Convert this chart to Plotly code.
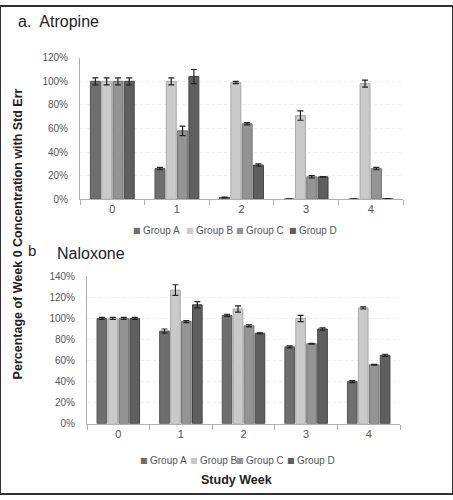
import plotly.graph_objects as go

weeks = [0, 1, 2, 3, 4]
week_labels = ["0", "1", "2", "3", "4"]
groups = ["Group A", "Group B", "Group C", "Group D"]
colors = ["#6e6e6e", "#cacaca", "#949494", "#5f5f5f"]
outline = ["#555555", "#a8a8a8", "#707070", "#444444"]

# Atropine (fraction of week 0)
atro_A = [1.00, 0.26, 0.015, 0.003, 0.003]
atro_B = [1.00, 1.00, 0.99, 0.71, 0.98]
atro_C = [1.00, 0.58, 0.64, 0.19, 0.26]
atro_D = [1.00, 1.04, 0.29, 0.19, 0.005]
atro_A_err = [0.03, 0.01, 0.003, 0.0, 0.0]
atro_B_err = [0.03, 0.03, 0.01, 0.04, 0.03]
atro_C_err = [0.03, 0.04, 0.01, 0.01, 0.01]
atro_D_err = [0.03, 0.06, 0.01, 0.003, 0.0]

# Naloxone
nalo_A = [1.00, 0.88, 1.03, 0.73, 0.40]
nalo_B = [1.00, 1.27, 1.09, 1.00, 1.10]
nalo_C = [1.00, 0.97, 0.93, 0.76, 0.56]
nalo_D = [1.00, 1.13, 0.86, 0.90, 0.65]
nalo_A_err = [0.01, 0.02, 0.01, 0.01, 0.01]
nalo_B_err = [0.01, 0.05, 0.03, 0.03, 0.01]
nalo_C_err = [0.01, 0.01, 0.01, 0.004, 0.004]
nalo_D_err = [0.01, 0.03, 0.004, 0.01, 0.01]

atro = [atro_A, atro_B, atro_C, atro_D]
atro_err = [atro_A_err, atro_B_err, atro_C_err, atro_D_err]
nalo = [nalo_A, nalo_B, nalo_C, nalo_D]
nalo_err = [nalo_A_err, nalo_B_err, nalo_C_err, nalo_D_err]

W, H = 453, 500
FONT = "Arial, Liberation Sans, sans-serif"

fig = go.Figure()

for i, g in enumerate(groups):
    fig.add_trace(go.Bar(
        x=weeks, y=atro[i], name=g, xaxis="x", yaxis="y", showlegend=False,
        marker=dict(color=colors[i], line=dict(color=outline[i], width=1)),
        error_y=dict(type="data", array=atro_err[i], color="#222222", thickness=1.2, width=3),
        offsetgroup=str(i),
    ))
for i, g in enumerate(groups):
    fig.add_trace(go.Bar(
        x=weeks, y=nalo[i], name=g, xaxis="x2", yaxis="y2", showlegend=False,
        marker=dict(color=colors[i], line=dict(color=outline[i], width=1)),
        error_y=dict(type="data", array=nalo_err[i], color="#222222", thickness=1.2, width=3),
        offsetgroup=str(i),
    ))

def px_x(p):
    return p / W

def px_y(p):
    return 1 - p / H

xaxis_common = dict(
    range=[-0.5, 4.5], tickvals=weeks, ticktext=week_labels, ticks="",
    showline=True, linecolor="#b0b0b0", linewidth=1, showgrid=False, zeroline=False,
    tickfont=dict(family=FONT, size=11, color="#555555"),
    minor=dict(ticks="outside", tick0=-0.5, dtick=1, ticklen=5, tickcolor="#b0b0b0", showgrid=False),
    fixedrange=True,
)
yaxis_common = dict(
    tickformat=".0%", showline=True, linecolor="#b0b0b0", linewidth=1,
    showgrid=True, gridcolor="#eeeeee", griddash="dot", zeroline=False,
    tickfont=dict(family=FONT, size=10, color="#555555"), ticks="",
    ticklabelstandoff=9, fixedrange=True,
)

annotations = [
    dict(text="a.  Atropine", x=px_x(16), y=px_y(16), xref="paper", yref="paper",
         xanchor="left", yanchor="middle", showarrow=False,
         font=dict(family=FONT, size=16, color="#222222")),
    dict(text="b", x=px_x(26), y=px_y(251), xref="paper", yref="paper",
         xanchor="left", yanchor="middle", showarrow=False,
         font=dict(family=FONT, size=15, color="#222222")),
    dict(text="Naloxone", x=px_x(55), y=px_y(254), xref="paper", yref="paper",
         xanchor="left", yanchor="middle", showarrow=False,
         font=dict(family=FONT, size=16, color="#222222")),
    dict(text="<b>Percentage of Week 0 Concentration with Std Err</b>", x=px_x(18), y=px_y(234),
         xref="paper", yref="paper", xanchor="center", yanchor="middle", textangle=-90,
         showarrow=False, font=dict(family=FONT, size=12.5, color="#222222")),
    dict(text="<b>Study Week</b>", x=px_x(236), y=px_y(486), xref="paper", yref="paper",
         xanchor="center", yanchor="middle", showarrow=False,
         font=dict(family=FONT, size=12.5, color="#222222")),
]

# Legends (one under each panel): a small square then the group name
legend_sq_top = [137, 190, 240, 293]
legend_sq_bot = [144, 194, 240, 291]
for lx, ly in ((legend_sq_top, 230), (legend_sq_bot, 466)):
    for i, g in enumerate(groups):
        annotations.append(dict(
            text="■", x=px_x(lx[i]), y=px_y(ly), xref="paper", yref="paper",
            xanchor="center", yanchor="middle", showarrow=False,
            font=dict(family="DejaVu Sans", size=8, color=colors[i]),
        ))
        annotations.append(dict(
            text=g, x=px_x(lx[i] + 4), y=px_y(ly), xref="paper", yref="paper",
            xanchor="left", yanchor="middle", showarrow=False,
            font=dict(family=FONT, size=10, color="#555555"),
        ))

fig.update_layout(
    width=W, height=H,
    margin=dict(l=0, r=0, t=0, b=0),
    paper_bgcolor="white", plot_bgcolor="white",
    barmode="group", bargap=0.3, bargroupgap=0.12,
    font=dict(family=FONT, color="#333333"),
    xaxis=dict(domain=[px_x(80), px_x(403)], anchor="y", **xaxis_common),
    yaxis=dict(domain=[px_y(198), px_y(53)], anchor="x", range=[0, 1.2], dtick=0.2, **yaxis_common),
    xaxis2=dict(domain=[px_x(87), px_x(400)], anchor="y2", **xaxis_common),
    yaxis2=dict(domain=[px_y(428), px_y(277)], anchor="x2", range=[0, 1.4], dtick=0.2, **yaxis_common),
    showlegend=False,
    annotations=annotations,
    shapes=[
        dict(type="rect", xref="paper", yref="paper", x0=0, y0=0, x1=1, y1=1,
             line=dict(color="#333333", width=2)),
    ],
)

fig.write_html("out.html", config={"displayModeBar": False},
               post_script="document.body.style.margin='0';")
